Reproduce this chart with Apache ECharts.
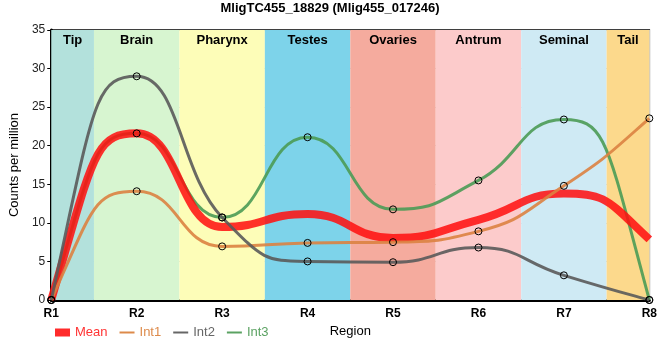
<!DOCTYPE html>
<html><head><meta charset="utf-8">
<script src="https://cdn.jsdelivr.net/npm/echarts@6/dist/echarts.min.js"></script>
<style>html,body{margin:0;padding:0;background:#fff}#c{width:660px;height:360px}</style>
</head><body><div id="c"></div>
<script>
const titleText = 'MligTC455_18829 (Mlig455_017246)';
const categories = ['R1','R2','R3','R4','R5','R6','R7','R8'];
const int1 = [0, 14.1, 6.95, 7.4, 7.5, 8.9, 14.8, 23.55];
const int2 = [0, 29.0, 10.7, 5.0, 4.9, 6.8, 3.2, 0];
const int3 = [0, 21.6, 10.7, 21.1, 11.75, 15.5, 23.4, 0];
const meanVals = [0, 21.6, 9.45, 11.15, 8.05, 10.4, 13.8, 7.85];
const regionNames = ['Tip','Brain','Pharynx','Testes','Ovaries','Antrum','Seminal','Tail'];
const regionEdges = [0, 0.5, 1.5, 2.5, 3.5, 4.5, 5.5, 6.5, 7];
const regionColors = ['#b3e1dc','#d7f5d0','#fdfdb8','#7dd3ea','#f5ab9e','#fccbcb','#cfeaf4','#fcd98c'];
const yTicks = {min: 0, max: 35, interval: 5};

const FONT = '"Liberation Sans", Arial, sans-serif';
const HANDLE = 0.5; // bezier handle length, in category steps
const chart = echarts.init(document.getElementById('c'));

const bands = regionNames.map((n, i) => [
  {xAxis: regionEdges[i], name: n, itemStyle: {color: regionColors[i]}},
  {xAxis: regionEdges[i + 1]}
]);

// monotone tangents (unit spacing between categories)
function tangents(ys) {
  const n = ys.length, t = new Array(n).fill(0);
  const sign = v => (v > 0 ? 1 : v < 0 ? -1 : 0);
  for (let i = 1; i < n - 1; i++) {
    const s0 = ys[i] - ys[i - 1], s1 = ys[i + 1] - ys[i], p = (s0 + s1) / 2;
    t[i] = (sign(s0) + sign(s1)) * Math.min(Math.abs(s0), Math.abs(s1), 0.5 * Math.abs(p)) || 0;
  }
  t[0] = 1.75 * (ys[1] - ys[0]) - 0.75 * t[1];
  t[n - 1] = 1.75 * (ys[n - 1] - ys[n - 2]) - 0.75 * t[n - 2];
  return t;
}

function curveSeries(name, ys, color, width, z) {
  const t = tangents(ys);
  return {
    name, type: 'custom', xAxisIndex: 1, yAxisIndex: 0, z, silent: true,
    data: ys.map((v, i) => [i, v]),
    renderItem(params, api) {
      if (params.dataIndex !== 0) return null;
      const p0 = api.coord([0, ys[0]]);
      let d = 'M' + p0[0] + ' ' + p0[1];
      for (let i = 0; i < ys.length - 1; i++) {
        const c1 = api.coord([i + HANDLE, ys[i] + t[i] * HANDLE]);
        const c2 = api.coord([i + 1 - HANDLE, ys[i + 1] - t[i + 1] * HANDLE]);
        const p = api.coord([i + 1, ys[i + 1]]);
        d += 'C' + c1[0] + ' ' + c1[1] + ' ' + c2[0] + ' ' + c2[1] + ' ' + p[0] + ' ' + p[1];
      }
      return {type: 'path', shape: {pathData: d},
        style: {fill: 'none', stroke: color, lineWidth: width, lineJoin: 'round'}};
    }
  };
}

function markerSeries(name, ys, z) {
  return {
    name, type: 'scatter', data: ys, xAxisIndex: 0, yAxisIndex: 0, z, silent: true,
    symbol: 'circle', symbolSize: 7,
    itemStyle: {color: 'rgba(0,0,0,0)', borderColor: '#000', borderWidth: 1, opacity: 1}
  };
}

chart.setOption({
  animation: false,
  backgroundColor: '#fff',
  textStyle: {fontFamily: FONT},
  title: {text: titleText, left: 'center', top: -3,
    textStyle: {fontSize: 13, fontWeight: 'bold', color: '#000', fontFamily: FONT}},
  grid: {left: 50, right: 10, top: 30, bottom: 60, show: true, borderColor: '#000', borderWidth: 1.5, backgroundColor: 'transparent'},
  legend: {
    left: 50, top: 321, itemWidth: 15, itemHeight: 8, itemGap: 12,
    textStyle: {fontSize: 13, fontFamily: FONT},
    data: [
      {name: 'Mean', icon: 'rect', itemStyle: {color: 'rgba(255,20,20,0.9)', borderWidth: 0}, textStyle: {color: '#f33'}},
      {name: 'Int1', icon: 'path://M0,3H15V5H0Z', itemStyle: {color: '#dd8a4a', borderWidth: 0}, textStyle: {color: '#dd8a4a'}},
      {name: 'Int2', icon: 'path://M0,3H15V5H0Z', itemStyle: {color: '#666', borderWidth: 0}, textStyle: {color: '#666'}},
      {name: 'Int3', icon: 'path://M0,3H15V5H0Z', itemStyle: {color: '#5ba262', borderWidth: 0}, textStyle: {color: '#5ba262'}}
    ]
  },
  xAxis: [
    {type: 'category', data: categories, boundaryGap: false,
     name: 'Region', nameLocation: 'middle', nameGap: 25,
     nameTextStyle: {fontSize: 13, color: '#000', fontFamily: FONT},
     axisLine: {lineStyle: {color: '#000', width: 3}},
     axisTick: {show: false},
     axisLabel: {fontSize: 12, fontWeight: 'bold', color: '#000', margin: 8, fontFamily: FONT},
     splitLine: {show: true, lineStyle: {color: '#c8c8c8', width: 1}}},
    {type: 'value', min: 0, max: 7, show: false}
  ],
  yAxis: {type: 'value', min: yTicks.min, max: yTicks.max, interval: yTicks.interval,
    name: 'Counts per million', nameLocation: 'middle', nameGap: 24,
    nameTextStyle: {fontSize: 13, color: '#000', fontFamily: FONT},
    axisLine: {show: true, lineStyle: {color: '#000', width: 3}},
    axisTick: {show: true, length: 4, lineStyle: {color: '#000'}},
    axisLabel: {fontSize: 12, color: '#222', margin: 6, fontFamily: FONT},
    splitLine: {show: true, lineStyle: {color: '#c8c8c8', width: 1}}},
  series: [
    {type: 'line', name: '_bands', data: [], xAxisIndex: 1, z: -1, silent: true,
     markArea: {silent: true, data: bands,
       label: {show: true, position: 'insideTop', distance: 4, fontSize: 13, fontWeight: 'bold', color: '#000', fontFamily: FONT}}},
    curveSeries('Int3', int3, 'rgba(75,155,85,0.9)', 3, 2),
    curveSeries('Mean', meanVals, 'rgba(255,15,15,0.86)', 8, 3),
    curveSeries('Int1', int1, 'rgba(220,130,65,0.9)', 3, 4),
    curveSeries('Int2', int2, 'rgba(90,90,90,0.9)', 3, 4),
    markerSeries('Int3', int3, 6),
    markerSeries('Int1', int1, 6),
    markerSeries('Int2', int2, 6)
  ]
});
</script></body></html>
